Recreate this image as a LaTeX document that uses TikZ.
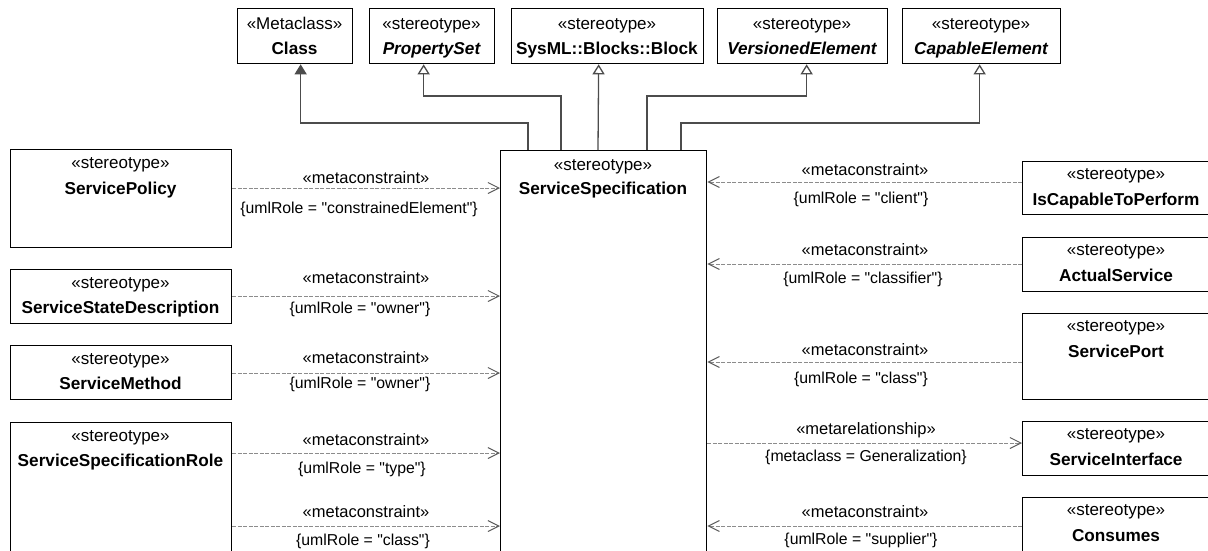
\documentclass[tikz,border=0pt]{standalone}
\usepackage{fontspec}
\setmainfont{Liberation Sans}[Ligatures=TeXOff]
\usetikzlibrary{arrows.meta}
\newcommand\qq{\symbol{34}}
\begin{document}
\begin{tikzpicture}[x=1pt,y=-1pt,
  box/.style={draw=black, line width=1.3pt, rectangle, inner sep=0pt, anchor=north west},
  stt/.style={anchor=base, inner sep=0pt, font=\fontsize{17}{20}\selectfont},
  nm/.style={anchor=base, inner sep=0pt, font=\fontsize{17.2}{20}\selectfont\bfseries},
  nmi/.style={anchor=base, inner sep=0pt, font=\fontsize{17.2}{20}\selectfont\bfseries\itshape},
  lab/.style={anchor=base, inner sep=0pt, font=\fontsize{16.5}{20}\selectfont},
  labs/.style={anchor=base, inner sep=0pt, font=\fontsize{15.8}{19}\selectfont},
  dep/.style={draw=black!45, line width=1pt, dash pattern=on 4pt off 1.5pt,
    -{Straight Barb[length=11pt, width=11pt, line width=1pt, color=black!65]}},
  gen/.style={draw=black!70, line width=1.3pt, -{Triangle[open, fill=white, length=10pt, width=12pt]}},
  genf/.style={draw=black!70, line width=1.3pt, -{Triangle[length=10pt, width=12pt]}},
]
\useasboundingbox (0,0) rectangle (1208,550);
\clip (0,0) rectangle (1208,550);

% top boxes
\node[box, minimum width=115pt, minimum height=55pt] (cls) at (237,8) {};
\node[stt] (clsS) at (294.5,29) {«Metaclass»};
\node[nm]  (clsN) at (294.5,54) {Class};
\node[box, minimum width=125pt, minimum height=55pt] (ps) at (369,8) {};
\node[stt] (psS) at (431.5,29) {«stereotype»};
\node[nmi] (psN) at (431.5,54) {PropertySet};
\node[box, minimum width=192pt, minimum height=55pt] (blk) at (511,8) {};
\node[stt] (blkS) at (607,29) {«stereotype»};
\node[nm]  (blkN) at (607,54) {SysML::Blocks::Block};
\node[box, minimum width=170pt, minimum height=55pt] (ver) at (717,8) {};
\node[stt] (verS) at (802,29) {«stereotype»};
\node[nmi] (verN) at (802,54) {VersionedElement};
\node[box, minimum width=158pt, minimum height=55pt] (cap) at (902,8) {};
\node[stt] (capS) at (981,29) {«stereotype»};
\node[nmi] (capN) at (981,54) {CapableElement};

% center box
\node[box, minimum width=206pt, minimum height=420pt] (ss) at (500,150) {};
\node[stt] (ssS) at (603,170) {«stereotype»};
\node[nm]  (ssN) at (603,194) {ServiceSpecification};

% left boxes
\node[box, minimum width=221pt, minimum height=98pt] (pol) at (10,149) {};
\node[stt] (polS) at (120.5,168) {«stereotype»};
\node[nm]  (polN) at (120.5,194) {ServicePolicy};
\node[box, minimum width=221pt, minimum height=54pt] (ssd) at (10,269) {};
\node[stt] (ssdS) at (120.5,288) {«stereotype»};
\node[nm]  (ssdN) at (120.5,313) {ServiceStateDescription};
\node[box, minimum width=221pt, minimum height=54pt] (sm) at (10,345) {};
\node[stt] (smS) at (120.5,364) {«stereotype»};
\node[nm]  (smN) at (120.5,389) {ServiceMethod};
\node[box, minimum width=221pt, minimum height=150pt] (ssr) at (10,422) {};
\node[stt] (ssrS) at (120.5,441) {«stereotype»};
\node[nm]  (ssrN) at (120.5,466) {ServiceSpecificationRole};

% right boxes
\node[box, minimum width=190pt, minimum height=53pt] (icp) at (1022,161) {};
\node[stt] (icpS) at (1116,179) {«stereotype»};
\node[nm]  (icpN) at (1116,205) {IsCapableToPerform};
\node[box, minimum width=190pt, minimum height=54pt] (act) at (1022,237) {};
\node[stt] (actS) at (1116,255) {«stereotype»};
\node[nm]  (actN) at (1116,281) {ActualService};
\node[box, minimum width=190pt, minimum height=86pt] (port) at (1022,313) {};
\node[stt] (portS) at (1116,331) {«stereotype»};
\node[nm]  (portN) at (1116,357) {ServicePort};
\node[box, minimum width=190pt, minimum height=54pt] (si) at (1022,421) {};
\node[stt] (siS) at (1116,439) {«stereotype»};
\node[nm]  (siN) at (1116,465) {ServiceInterface};
\node[box, minimum width=190pt, minimum height=80pt] (con) at (1022,497) {};
\node[stt] (conS) at (1116,515) {«stereotype»};
\node[nm]  (conN) at (1116,541) {Consumes};

% generalizations
\draw[genf] ([xshift=28pt]ss.north west) -- ++(0,-27) -| ([xshift=5.5pt]cls.south);
\draw[gen]  ([xshift=61pt]ss.north west) -- ++(0,-54) -| ([xshift=-8.5pt]ps.south);
\draw[gen]  ([xshift=98pt]ss.north west) -- ([xshift=-9pt]blk.south);
\draw[gen]  ([xshift=147pt]ss.north west) -- ++(0,-54) -| ([xshift=4pt]ver.south);
\draw[gen]  ([xshift=181pt]ss.north west) -- ++(0,-27) -| ([xshift=-2pt]cap.south);

% y levels of the connectors
\coordinate (yL1) at (0,188);
\coordinate (yL2) at (0,296);
\coordinate (yL3) at (0,373);
\coordinate (yL4) at (0,453);
\coordinate (yL5) at (0,526);
\coordinate (yR1) at (0,182);
\coordinate (yR2) at (0,264);
\coordinate (yR3) at (0,362);
\coordinate (yR4) at (0,443);
\coordinate (yR5) at (0,526);

% left dependencies
\draw[dep] (pol.east |- yL1) -- (ss.west |- yL1);
\draw[dep] (ssd.east |- yL2) -- (ss.west |- yL2);
\draw[dep] (sm.east |- yL3) -- (ss.west |- yL3);
\draw[dep] (ssr.east |- yL4) -- (ss.west |- yL4);
\draw[dep] (ssr.east |- yL5) -- (ss.west |- yL5);
\node[lab]  (l1a) at (366,183) {«metaconstraint»};
\node[labs] (l1b) at (359,213) {\{umlRole = \qq constrainedElement\qq\}};
\node[lab]  (l2a) at (366,283.5) {«metaconstraint»};
\node[labs] (l2b) at (360,313) {\{umlRole = \qq owner\qq\}};
\node[lab]  (l3a) at (366,363.5) {«metaconstraint»};
\node[labs] (l3b) at (360,388.5) {\{umlRole = \qq owner\qq\}};
\node[lab]  (l4a) at (366,445) {«metaconstraint»};
\node[labs] (l4b) at (362,473) {\{umlRole = \qq type\qq\}};
\node[lab]  (l5a) at (366,517) {«metaconstraint»};
\node[labs] (l5b) at (363,545) {\{umlRole = \qq class\qq\}};

% right dependencies
\draw[dep] (icp.west |- yR1) -- (ss.east |- yR1);
\draw[dep] (act.west |- yR2) -- (ss.east |- yR2);
\draw[dep] (port.west |- yR3) -- (ss.east |- yR3);
\draw[dep] (ss.east |- yR4) -- (si.west |- yR4);
\draw[dep] (con.west |- yR5) -- (ss.east |- yR5);
\node[lab]  (r1a) at (865,175.5) {«metaconstraint»};
\node[labs] (r1b) at (861,203) {\{umlRole = \qq client\qq\}};
\node[lab]  (r2a) at (865,255.5) {«metaconstraint»};
\node[labs] (r2b) at (863,283) {\{umlRole = \qq classifier\qq\}};
\node[lab]  (r3a) at (865,355.5) {«metaconstraint»};
\node[labs] (r3b) at (861,383) {\{umlRole = \qq class\qq\}};
\node[lab]  (r4a) at (866,434) {«metarelationship»};
\node[labs] (r4b) at (866,461) {\{metaclass = Generalization\}};
\node[lab]  (r5a) at (865,517) {«metaconstraint»};
\node[labs] (r5b) at (861,544.5) {\{umlRole = \qq supplier\qq\}};
\end{tikzpicture}
\end{document}
